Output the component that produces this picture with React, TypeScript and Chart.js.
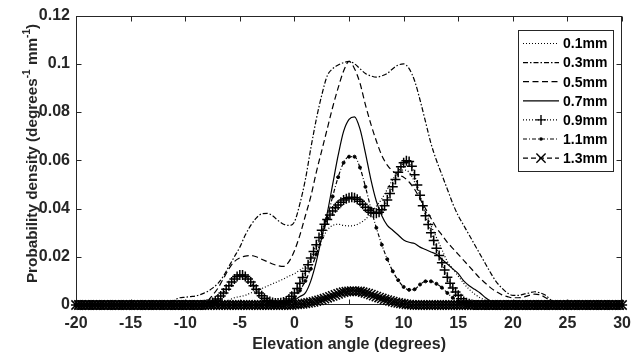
import React, { useEffect, useRef } from "react";
import { Chart, registerables } from "chart.js";

Chart.register(...registerables);

// Elevation angle grid (degrees), 0.5 degree spacing
const angles = [
  -20, -19.5, -19, -18.5, -18, -17.5, -17, -16.5, -16, -15.5,
  -15, -14.5, -14, -13.5, -13, -12.5, -12, -11.5, -11, -10.5,
  -10, -9.5, -9, -8.5, -8, -7.5, -7, -6.5, -6, -5.5,
  -5, -4.5, -4, -3.5, -3, -2.5, -2, -1.5, -1, -0.5,
  0, 0.5, 1, 1.5, 2, 2.5, 3, 3.5, 4, 4.5,
  5, 5.5, 6, 6.5, 7, 7.5, 8, 8.5, 9, 9.5,
  10, 10.5, 11, 11.5, 12, 12.5, 13, 13.5, 14, 14.5,
  15, 15.5, 16, 16.5, 17, 17.5, 18, 18.5, 19, 19.5,
  20, 20.5, 21, 21.5, 22, 22.5, 23, 23.5, 24, 24.5,
  25, 25.5, 26, 26.5, 27, 27.5, 28, 28.5, 29, 29.5,
  30,
];

// Elevation angle grid (degrees), 0.25 degree spacing (marker series)
const fineAngles = [
  -20, -19.75, -19.5, -19.25, -19, -18.75, -18.5, -18.25, -18, -17.75,
  -17.5, -17.25, -17, -16.75, -16.5, -16.25, -16, -15.75, -15.5, -15.25,
  -15, -14.75, -14.5, -14.25, -14, -13.75, -13.5, -13.25, -13, -12.75,
  -12.5, -12.25, -12, -11.75, -11.5, -11.25, -11, -10.75, -10.5, -10.25,
  -10, -9.75, -9.5, -9.25, -9, -8.75, -8.5, -8.25, -8, -7.75,
  -7.5, -7.25, -7, -6.75, -6.5, -6.25, -6, -5.75, -5.5, -5.25,
  -5, -4.75, -4.5, -4.25, -4, -3.75, -3.5, -3.25, -3, -2.75,
  -2.5, -2.25, -2, -1.75, -1.5, -1.25, -1, -0.75, -0.5, -0.25,
  0, 0.25, 0.5, 0.75, 1, 1.25, 1.5, 1.75, 2, 2.25,
  2.5, 2.75, 3, 3.25, 3.5, 3.75, 4, 4.25, 4.5, 4.75,
  5, 5.25, 5.5, 5.75, 6, 6.25, 6.5, 6.75, 7, 7.25,
  7.5, 7.75, 8, 8.25, 8.5, 8.75, 9, 9.25, 9.5, 9.75,
  10, 10.25, 10.5, 10.75, 11, 11.25, 11.5, 11.75, 12, 12.25,
  12.5, 12.75, 13, 13.25, 13.5, 13.75, 14, 14.25, 14.5, 14.75,
  15, 15.25, 15.5, 15.75, 16, 16.25, 16.5, 16.75, 17, 17.25,
  17.5, 17.75, 18, 18.25, 18.5, 18.75, 19, 19.25, 19.5, 19.75,
  20, 20.25, 20.5, 20.75, 21, 21.25, 21.5, 21.75, 22, 22.25,
  22.5, 22.75, 23, 23.25, 23.5, 23.75, 24, 24.25, 24.5, 24.75,
  25, 25.25, 25.5, 25.75, 26, 26.25, 26.5, 26.75, 27, 27.25,
  27.5, 27.75, 28, 28.25, 28.5, 28.75, 29, 29.25, 29.5, 29.75,
  30,
];

const seriesNames = ["0.1mm", "0.3mm", "0.5mm", "0.7mm", "0.9mm", "1.1mm", "1.3mm"];

const d01 = [
  0, 0, 0, 0, 0, 0, 0, 0, 0, 0,
  0, 0, 0, 0, 0, 0, 0, 0, 0, 0,
  0, 0, 0, 0, 0, 0.0002, 0.0005, 0.001, 0.002, 0.003,
  0.0035, 0.004, 0.005, 0.0058, 0.0068, 0.0078, 0.0088, 0.0098, 0.0108, 0.012,
  0.013, 0.0145, 0.016, 0.019, 0.023, 0.027, 0.031, 0.033, 0.0335, 0.033,
  0.0328, 0.033, 0.034, 0.0355, 0.038, 0.041, 0.044, 0.048, 0.052, 0.055,
  0.056, 0.055, 0.051, 0.045, 0.039, 0.033, 0.028, 0.023, 0.018, 0.015,
  0.012, 0.009, 0.0065, 0.0045, 0.003, 0.002, 0.001, 0.0005, 0.0002, 0,
  0, 0, 0, 0, 0, 0, 0, 0, 0, 0,
  0, 0, 0, 0, 0, 0, 0, 0, 0, 0,
  0,
];

const d03 = [
  0, 0, 0, 0, 0, 0, 0, 0, 0, 0,
  0, 0, 0, 0, 0, 0, 0.0002, 0.0008, 0.002, 0.003,
  0.0032, 0.0035, 0.0038, 0.0045, 0.0055, 0.007, 0.009, 0.012, 0.016, 0.02,
  0.024, 0.029, 0.033, 0.036, 0.0378, 0.038, 0.037, 0.035, 0.0335, 0.033,
  0.0345, 0.042, 0.052, 0.065, 0.077, 0.087, 0.095, 0.098, 0.0995, 0.1005,
  0.101, 0.1, 0.098, 0.096, 0.095, 0.0945, 0.095, 0.096, 0.098, 0.0995,
  0.1, 0.098, 0.093, 0.085, 0.076, 0.067, 0.06, 0.054, 0.048, 0.042,
  0.037, 0.033, 0.029, 0.025, 0.021, 0.017, 0.013, 0.0095, 0.007, 0.005,
  0.004, 0.004, 0.0045, 0.005, 0.0055, 0.005, 0.004, 0.002, 0.0005, 0,
  0, 0, 0, 0, 0, 0, 0, 0, 0, 0,
  0,
];

const d05 = [
  0, 0, 0, 0, 0, 0, 0, 0, 0, 0,
  0, 0, 0, 0, 0, 0, 0, 0, 0, 0,
  0, 0, 0, 0.0005, 0.0015, 0.004, 0.007, 0.011, 0.015, 0.018,
  0.0195, 0.0203, 0.0205, 0.02, 0.019, 0.018, 0.017, 0.0163, 0.016, 0.018,
  0.0225, 0.029, 0.037, 0.045, 0.055, 0.064, 0.073, 0.082, 0.09, 0.097,
  0.101, 0.098, 0.092, 0.083, 0.075, 0.068, 0.062, 0.058, 0.0555, 0.054,
  0.053, 0.051, 0.048, 0.044, 0.04, 0.036, 0.032, 0.029, 0.026, 0.0235,
  0.021, 0.0185, 0.016, 0.0135, 0.011, 0.009, 0.007, 0.0055, 0.0042, 0.0035,
  0.003, 0.003, 0.0033, 0.004, 0.0045, 0.0042, 0.003, 0.0015, 0.0005, 0,
  0, 0, 0, 0, 0, 0, 0, 0, 0, 0,
  0,
];

const d07 = [
  0, 0, 0, 0, 0, 0, 0, 0, 0, 0,
  0, 0, 0, 0, 0, 0, 0, 0, 0, 0,
  0, 0, 0, 0, 0, 0, 0, 0, 0, 0,
  0, 0, 0, 0, 0, 0, 0, 0, 0.0003, 0.001,
  0.002, 0.0035, 0.005, 0.01, 0.018, 0.028, 0.038, 0.05, 0.062, 0.072,
  0.077, 0.078, 0.073, 0.063, 0.052, 0.043, 0.037, 0.033, 0.031, 0.029,
  0.027, 0.026, 0.0255, 0.024, 0.023, 0.022, 0.021, 0.019, 0.017, 0.015,
  0.013, 0.01, 0.008, 0.0065, 0.005, 0.003, 0.0015, 0.0008, 0.0003, 0,
  0, 0, 0, 0, 0, 0, 0, 0, 0, 0,
  0, 0, 0, 0, 0, 0, 0, 0, 0, 0,
  0,
];

// 0.9mm on the 0.25 degree grid
const d09 = [
  0, 0, 0, 0, 0, 0, 0, 0, 0, 0, 0, 0, 0, 0, 0, 0, 0, 0, 0, 0,
  0, 0, 0, 0, 0, 0, 0, 0, 0, 0, 0, 0, 0, 0, 0, 0, 0, 0, 0, 0,
  0, 0, 0, 0, 0, 0, 0, 0.0001, 0.0003, 0.0006,
  0.001, 0.0017, 0.0025, 0.0037, 0.005, 0.0065, 0.008, 0.0095, 0.0108, 0.0118,
  0.0124, 0.0124, 0.0118, 0.0108, 0.0095, 0.008, 0.0065, 0.005, 0.0038, 0.0028,
  0.002, 0.0014, 0.001, 0.0008, 0.0008, 0.0009, 0.0012, 0.0017, 0.0025, 0.0036,
  0.005, 0.0068, 0.009, 0.0114, 0.014, 0.0167, 0.0195, 0.0222, 0.025, 0.028,
  0.031, 0.0335, 0.0355, 0.0373, 0.039, 0.0403, 0.0415, 0.0426, 0.0435, 0.0441,
  0.0445, 0.0447, 0.0445, 0.0439, 0.043, 0.0418, 0.0405, 0.0393, 0.0385, 0.0381,
  0.038, 0.0385, 0.0395, 0.0412, 0.0435, 0.0462, 0.049, 0.052, 0.055, 0.0573,
  0.059, 0.0598, 0.0595, 0.0575, 0.054, 0.0498, 0.0455, 0.0412, 0.037, 0.0334,
  0.03, 0.0267, 0.0235, 0.0205, 0.0175, 0.0145, 0.0115, 0.009, 0.007, 0.0054,
  0.004, 0.0026, 0.0015, 0.0009, 0.0005, 0.0002, 0, 0, 0, 0,
  0, 0, 0, 0, 0, 0, 0, 0, 0, 0,
  0, 0, 0, 0, 0, 0, 0, 0, 0, 0, 0, 0, 0, 0, 0, 0, 0, 0, 0, 0,
  0, 0, 0, 0, 0, 0, 0, 0, 0, 0, 0, 0, 0, 0, 0, 0, 0, 0, 0, 0,
  0,
];

const d11 = [
  0, 0, 0, 0, 0, 0, 0, 0, 0, 0,
  0, 0, 0, 0, 0, 0, 0, 0, 0, 0,
  0, 0, 0, 0, 0, 0, 0, 0, 0, 0,
  0, 0, 0, 0, 0, 0, 0, 0, 0.0005, 0.0015,
  0.003, 0.006, 0.01, 0.015, 0.021, 0.028, 0.036, 0.045, 0.053, 0.059,
  0.0615, 0.0615, 0.057, 0.049, 0.04, 0.032, 0.025, 0.019, 0.014, 0.0103,
  0.0075, 0.0063, 0.0065, 0.0085, 0.0098, 0.0098, 0.0088, 0.0072, 0.005, 0.003,
  0.0015, 0.0005, 0, 0, 0, 0, 0, 0, 0, 0,
  0, 0, 0, 0, 0, 0, 0, 0, 0, 0,
  0, 0, 0, 0, 0, 0, 0, 0, 0, 0,
  0,
];

// 1.3mm on the 0.25 degree grid
const d13 = [
  0, 0, 0, 0, 0, 0, 0, 0, 0, 0, 0, 0, 0, 0, 0, 0, 0, 0, 0, 0,
  0, 0, 0, 0, 0, 0, 0, 0, 0, 0, 0, 0, 0, 0, 0, 0, 0, 0, 0, 0,
  0, 0, 0, 0, 0, 0, 0, 0, 0, 0, 0, 0, 0, 0, 0, 0, 0, 0, 0, 0,
  0, 0, 0, 0, 0, 0, 0, 0, 0, 0, 0, 0, 0, 0, 0, 0, 0, 0, 0, 0,
  0.0002, 0.0003, 0.0004, 0.0005, 0.0007, 0.0009, 0.0011, 0.0013, 0.0016, 0.0019,
  0.0022, 0.0026, 0.003, 0.0034, 0.0038, 0.0042, 0.0046, 0.005, 0.0053, 0.0055,
  0.0057, 0.0058, 0.0058, 0.0057, 0.0056, 0.0053, 0.005, 0.0047, 0.0043, 0.0039,
  0.0035, 0.0031, 0.0027, 0.0023, 0.002, 0.0017, 0.0014, 0.0011, 0.0009, 0.0007,
  0.0005, 0.0003, 0.0002, 0.0001, 0, 0, 0, 0, 0, 0,
  0, 0, 0, 0, 0, 0, 0, 0, 0, 0,
  0, 0, 0, 0, 0, 0, 0, 0, 0, 0, 0, 0, 0, 0, 0, 0, 0, 0, 0, 0,
  0, 0, 0, 0, 0, 0, 0, 0, 0, 0, 0, 0, 0, 0, 0, 0, 0, 0, 0, 0,
  0, 0, 0, 0, 0, 0, 0, 0, 0, 0, 0, 0, 0, 0, 0, 0, 0, 0, 0, 0,
  0,
];

const seriesValues = [d01, d03, d05, d07, d09, d11, d13];
const seriesGrids = [angles, angles, angles, angles, fineAngles, angles, fineAngles];

const xTicks = [-20, -15, -10, -5, 0, 5, 10, 15, 20, 25, 30];
const yTicks = [0, 0.02, 0.04, 0.06, 0.08, 0.1, 0.12];
const yTickLabels = ["0", "0.02", "0.04", "0.06", "0.08", "0.1", "0.12"];

const xTitle = "Elevation angle (degrees)";
const yTitleParts = [
  { text: "Probability density (degrees", sup: false },
  { text: "-1", sup: true },
  { text: " mm", sup: false },
  { text: "-1", sup: true },
  { text: ")", sup: false },
];

// Visual styles (not data)
type Style = { dash: number[]; marker: string | null; radius: number };
const styles: Style[] = [
  { dash: [1, 2], marker: null, radius: 0 },
  { dash: [5, 2, 1.5, 2], marker: null, radius: 0 },
  { dash: [6, 3.5], marker: null, radius: 0 },
  { dash: [], marker: null, radius: 0 },
  { dash: [1, 2], marker: "cross", radius: 5 },
  { dash: [4, 2, 1, 2], marker: "circle", radius: 1.5 },
  { dash: [5, 3], marker: "crossRot", radius: 6.5 },
];

const FONT = "'Liberation Sans', Arial, Helvetica, sans-serif";
const AXIS_COLOR = "#262626";

function drawMarker(ctx: CanvasRenderingContext2D, kind: string, x: number, y: number, r: number) {
  ctx.save();
  ctx.setLineDash([]);
  ctx.strokeStyle = "#000";
  ctx.fillStyle = "#000";
  ctx.lineWidth = 1.4;
  ctx.beginPath();
  if (kind === "cross") {
    ctx.moveTo(x - r, y);
    ctx.lineTo(x + r, y);
    ctx.moveTo(x, y - r);
    ctx.lineTo(x, y + r);
    ctx.stroke();
  } else if (kind === "crossRot") {
    const o = r * Math.SQRT1_2;
    ctx.moveTo(x - o, y - o);
    ctx.lineTo(x + o, y + o);
    ctx.moveTo(x - o, y + o);
    ctx.lineTo(x + o, y - o);
    ctx.stroke();
  } else if (kind === "circle") {
    ctx.arc(x, y, r, 0, Math.PI * 2);
    ctx.fill();
  }
  ctx.restore();
}

const framePlugin = {
  id: "matlabFrame",
  beforeDatasetsDraw(chart: any) {
    const { ctx, chartArea: a, scales } = chart;
    ctx.save();
    ctx.strokeStyle = AXIS_COLOR;
    ctx.lineWidth = 1;
    ctx.setLineDash([]);
    const L = Math.round(a.left) + 0.5;
    const R = Math.round(a.right) - 0.5;
    const T = Math.round(a.top) + 0.5;
    const B = Math.round(a.bottom) - 0.5;
    ctx.strokeRect(L, T, R - L, B - T);
    ctx.beginPath();
    const tl = 5;
    scales.x.ticks.forEach((t: any) => {
      const px = Math.round(scales.x.getPixelForValue(t.value)) + 0.5;
      ctx.moveTo(px, B);
      ctx.lineTo(px, B - tl);
      ctx.moveTo(px, T);
      ctx.lineTo(px, T + tl);
    });
    scales.y.ticks.forEach((t: any) => {
      const py = Math.round(scales.y.getPixelForValue(t.value)) + 0.5;
      ctx.moveTo(L, py);
      ctx.lineTo(L + tl, py);
      ctx.moveTo(R, py);
      ctx.lineTo(R - tl, py);
    });
    ctx.stroke();
    ctx.restore();
  },
  afterDraw(chart: any) {
    const { ctx, chartArea: a } = chart;
    ctx.save();
    // x title
    ctx.fillStyle = AXIS_COLOR;
    ctx.font = `bold 16px ${FONT}`;
    ctx.textAlign = "center";
    ctx.textBaseline = "middle";
    ctx.fillText(xTitle, (a.left + a.right) / 2, 345);
    // y title with superscripts
    ctx.save();
    ctx.translate(37, 153.5);
    ctx.rotate(-Math.PI / 2);
    ctx.textAlign = "left";
    ctx.textBaseline = "alphabetic";
    const mainFont = `bold 15.3px ${FONT}`;
    const supFont = `bold 10px ${FONT}`;
    let total = 0;
    yTitleParts.forEach((p) => {
      ctx.font = p.sup ? supFont : mainFont;
      total += ctx.measureText(p.text).width;
    });
    let cx = -total / 2;
    yTitleParts.forEach((p) => {
      ctx.font = p.sup ? supFont : mainFont;
      ctx.fillText(p.text, cx, p.sup ? -7 : 0);
      cx += ctx.measureText(p.text).width;
    });
    ctx.restore();

    // legend
    const bx = 518.5, by = 30.5, bw = 95, bh = 141;
    ctx.fillStyle = "#fff";
    ctx.fillRect(bx, by, bw, bh);
    ctx.strokeStyle = AXIS_COLOR;
    ctx.lineWidth = 1;
    ctx.setLineDash([]);
    ctx.strokeRect(bx, by, bw, bh);
    ctx.font = `bold 14px ${FONT}`;
    ctx.textAlign = "left";
    ctx.textBaseline = "middle";
    seriesNames.forEach((name, i) => {
      const y = 43.5 + i * 19.1;
      const st = styles[i];
      ctx.save();
      ctx.strokeStyle = "#000";
      ctx.lineWidth = 1.2;
      ctx.setLineDash(st.dash);
      ctx.beginPath();
      ctx.moveTo(523, y);
      ctx.lineTo(559, y);
      ctx.stroke();
      ctx.restore();
      if (st.marker) drawMarker(ctx, st.marker, 541, y, st.marker === "circle" ? 1.8 : st.radius);
      ctx.fillStyle = "#000";
      ctx.fillText(name, 563, y + 1);
    });
    ctx.restore();
  },
};

export default function App() {
  const canvasRef = useRef<HTMLCanvasElement | null>(null);

  useEffect(() => {
    const canvas = canvasRef.current;
    if (!canvas) return;
    const datasets = seriesValues.map((vals, i) => {
      const st = styles[i];
      const grid = seriesGrids[i];
      return {
        label: seriesNames[i],
        data: grid.map((a, j) => ({ x: a, y: vals[j] })),
        borderColor: "#000",
        backgroundColor: "#000",
        borderWidth: 1.2,
        borderDash: st.dash,
        fill: false,
        tension: 0,
        cubicInterpolationMode: "monotone" as const,
        pointStyle: (st.marker || "circle") as any,
        pointRadius: st.radius,
        pointBorderColor: "#000",
        pointBackgroundColor: "#000",
        pointBorderWidth: st.marker === "circle" ? 1 : 1.5,
        clip: false as any,
      };
    });

    const chart = new Chart(canvas, {
      type: "line",
      data: { datasets },
      options: {
        animation: false,
        responsive: false,
        devicePixelRatio: 1,
        events: [],
        layout: { padding: { top: 14, right: 10, left: 0, bottom: 0 } },
        plugins: {
          legend: { display: false },
          tooltip: { enabled: false },
          title: { display: false },
        },
        scales: {
          x: {
            type: "linear",
            min: -20,
            max: 30,
            grid: { display: false, drawTicks: false },
            border: { display: false },
            afterBuildTicks: (s: any) => {
              s.ticks = xTicks.map((v) => ({ value: v }));
            },
            afterFit: (s: any) => {
              s.height = 51;
            },
            ticks: {
              autoSkip: false,
              maxRotation: 0,
              padding: 9,
              color: AXIS_COLOR,
              font: { family: FONT, size: 16, weight: "bold" },
              callback: (v: any) => String(v),
            },
          },
          y: {
            type: "linear",
            min: 0,
            max: 0.12,
            grid: { display: false, drawTicks: false },
            border: { display: false },
            afterBuildTicks: (s: any) => {
              s.ticks = yTicks.map((v) => ({ value: v }));
            },
            afterFit: (s: any) => {
              s.width = 76;
            },
            ticks: {
              autoSkip: false,
              padding: 6,
              color: AXIS_COLOR,
              font: { family: FONT, size: 16, weight: "bold" },
              callback: (_v: any, idx: number) => yTickLabels[idx],
            },
          },
        },
      },
      plugins: [framePlugin],
    });
    return () => chart.destroy();
  }, []);

  return (
    <div style={{ position: "fixed", left: 0, top: 0, width: 640, height: 356, background: "#fff" }}>
      <canvas ref={canvasRef} width={640} height={356} style={{ display: "block" }} />
    </div>
  );
}
